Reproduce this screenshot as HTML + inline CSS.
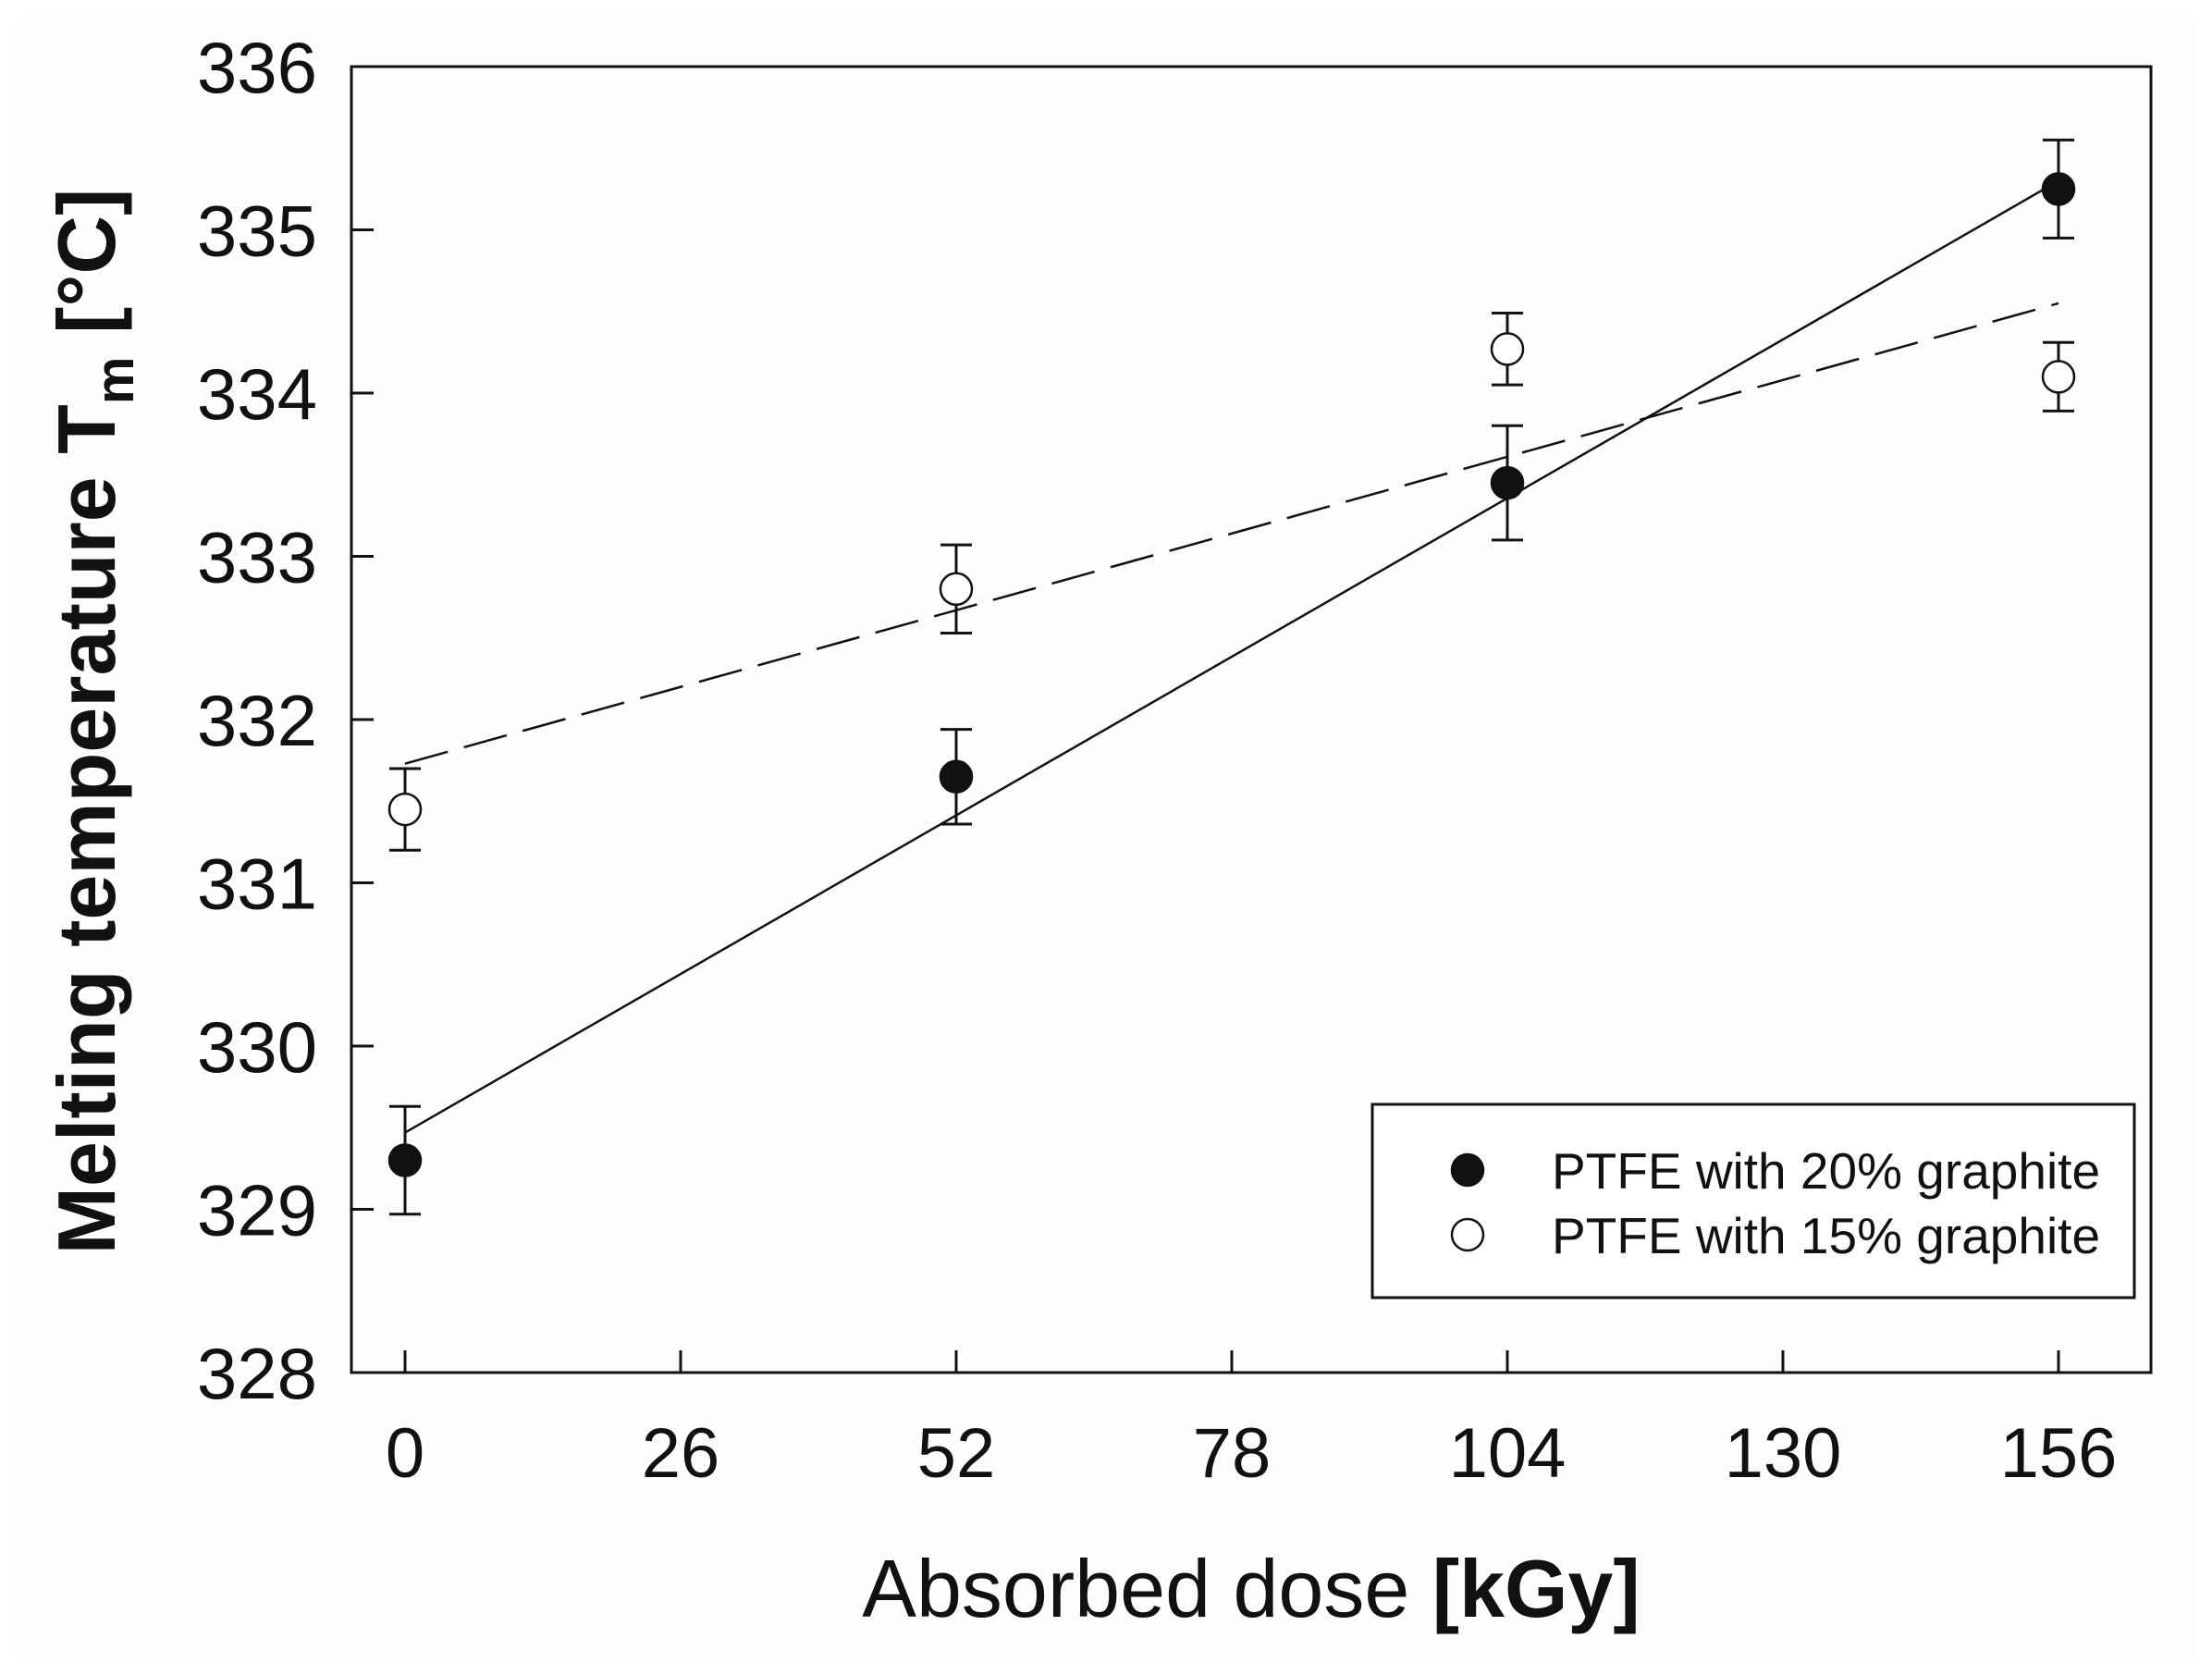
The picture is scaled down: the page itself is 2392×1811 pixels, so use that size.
<!DOCTYPE html>
<html><head><meta charset="utf-8"><style>
html,body{margin:0;padding:0;background:#fff;}
svg{display:block;font-family:"Liberation Sans",Arial,sans-serif;}
</style></head><body>
<svg id="chart" width="2392" height="1811" viewBox="0 0 2392 1811">
<rect x="0" y="0" width="2392" height="1811" fill="#ffffff"/>
<rect x="20" y="20" width="2352" height="1771" fill="#fdfdfc"/>
<g id="plot"></g>
</svg>
<script>
const categories = [0, 52, 104, 156];
const filledValues = [329.3, 331.65, 333.45, 335.25];
const filledErr = [0.33, 0.29, 0.35, 0.3];
const openValues = [331.45, 332.8, 334.27, 334.1];
const openErr = [0.25, 0.27, 0.22, 0.21];
const filledFit = [329.47, 335.3];
const openFit = [331.73, 334.55];
const xTicks = [0, 26, 52, 78, 104, 130, 156];
const yTicks = [328, 329, 330, 331, 332, 333, 334, 335, 336];

const L=380,R=2326,T=72,B=1484;
const X0=438,X1=2226;
function xs(v){return X0+(v-0)/(156-0)*(X1-X0);}
function ys(v){return B-(v-328)/(336-328)*(B-T);}
const NS='http://www.w3.org/2000/svg';
const g=document.getElementById('plot');
function mk(tag,attrs,parent){const e=document.createElementNS(NS,tag);for(const k in attrs)e.setAttribute(k,attrs[k]);(parent||g).appendChild(e);return e;}

let e=mk('rect',{x:L,y:T,width:R-L,height:B-T,fill:'none',stroke:'#111','stroke-width':3});



yTicks.forEach(v=>{
  const y=ys(v);
  let t=mk('line',{x1:L,x2:L+24,y1:y,y2:y,stroke:'#111','stroke-width':3});
  
  
  let tx=mk('text',{x:343,y:y+28,'text-anchor':'end','font-size':78,fill:'#111'});
  tx.textContent=v;
  
  
});
xTicks.forEach(v=>{
  const x=xs(v);
  let t=mk('line',{x1:x,x2:x,y1:B,y2:B-24,stroke:'#111','stroke-width':3});
  
  
  let tx=mk('text',{x:x,y:1597,'text-anchor':'middle','font-size':76,fill:'#111'});
  tx.textContent=v;
  
  
});

e=mk('line',{x1:xs(0),y1:ys(filledFit[0]),x2:xs(156),y2:ys(filledFit[1]),stroke:'#111','stroke-width':2.5});


e=mk('line',{x1:xs(0),y1:ys(openFit[0]),x2:xs(156),y2:ys(openFit[1]),stroke:'#111','stroke-width':2.5,'stroke-dasharray':'48 18'});



function series(vals,errs,fill,name){
  vals.forEach((v,i)=>{
    const x=xs(categories[i]);
    const yt=ys(v+errs[i]),yb=ys(v-errs[i]);
    let eb=mk('path',{d:`M${x},${yt}V${yb}M${x-17},${yt}H${x+17}M${x-17},${yb}H${x+17}`,stroke:'#111','stroke-width':3,fill:'none'});
    
    
    let c=mk('circle',{cx:x,cy:ys(v),r:17,fill:fill,stroke:'#111','stroke-width':2.5});
    
    
  });
}
series(openValues,openErr,'#fff','ptfe-15-graphite');
series(filledValues,filledErr,'#111','ptfe-20-graphite');

const lg=mk('g',{});


e=mk('rect',{x:1484,y:1194,width:824,height:209,fill:'#fff',stroke:'#111','stroke-width':3},lg);


[['#111','PTFE with 20% graphite',1265,'legend-entry-20-percent'],['#fff','PTFE with 15% graphite',1335,'legend-entry-15-percent']].forEach(a=>{
  let c=mk('circle',{cx:1587,cy:a[2],r:17,fill:a[0],stroke:'#111','stroke-width':2.5},lg);
  
  
  let t=mk('text',{x:1678,y:a[2]+20,'font-size':55,fill:'#111'},lg);
  t.textContent=a[1];
  
  
});

e=mk('text',{x:1353,y:1748,'text-anchor':'middle','font-size':88,fill:'#111'});
e.innerHTML='Absorbed dose <tspan font-weight="bold">[kGy]</tspan>';


e=mk('text',{x:0,y:0,'text-anchor':'middle','font-size':88,'font-weight':'bold',fill:'#111',transform:'translate(124,780) rotate(-90)'});
e.innerHTML='Melting temperature T<tspan font-size="58" dy="20">m</tspan><tspan dy="-20"> [°C]</tspan>';


</script>
</body></html>
